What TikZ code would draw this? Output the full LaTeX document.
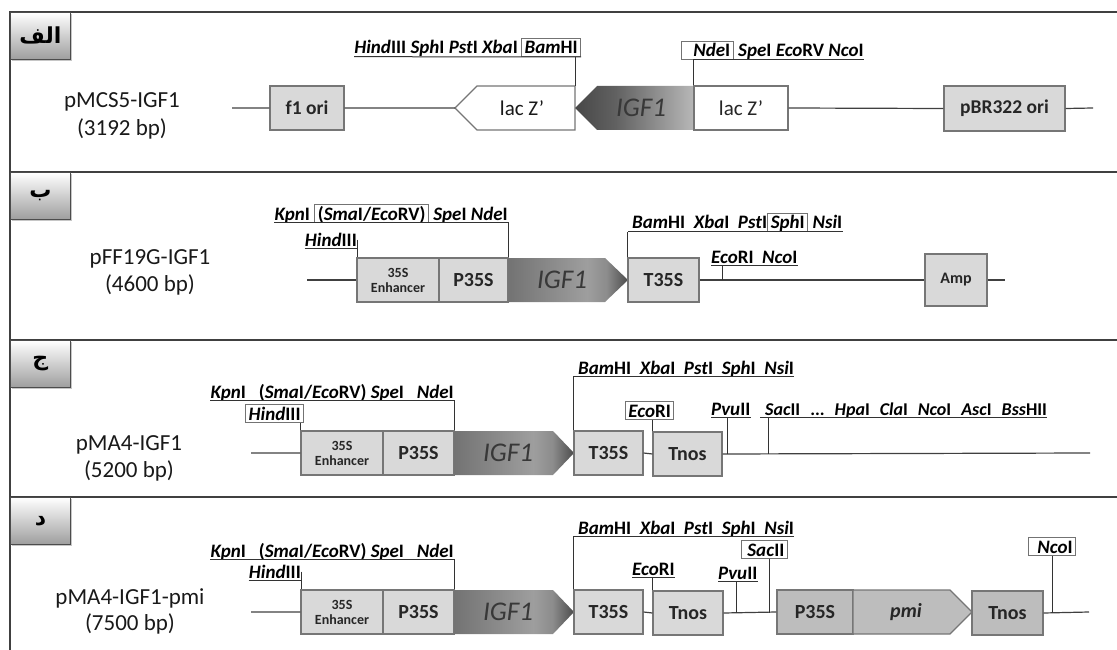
\documentclass[tikz,border=0pt]{standalone}
\usepackage{fontspec}
\setmainfont{Carlito}
\newfontfamily\arabicfont[Script=Arabic]{DejaVu Sans}
\TeXXeTstate=1
\usetikzlibrary{shadows}
\definecolor{boxlt}{HTML}{D9D9D9}
\definecolor{boxmd}{HTML}{BDBDBD}
\definecolor{edgec}{HTML}{767676}
\definecolor{framec}{HTML}{404040}
\definecolor{igfc}{HTML}{383838}
\pgfdeclarehorizontalshading{igfL}{100bp}{color(0bp)=(black!72); color(25bp)=(black!72); color(42bp)=(black!62); color(75bp)=(black!28); color(100bp)=(black!28)}
\pgfdeclarehorizontalshading{igfR}{100bp}{color(0bp)=(black!55); color(25bp)=(black!55); color(58bp)=(black!38); color(66bp)=(black!45); color(75bp)=(black!70); color(100bp)=(black!70)}
\newcommand\ez[2]{\textit{#1}#2}
\newcommand\fs[1]{\fontsize{#1}{#1}\selectfont}
\newcommand\gap{\hspace{10pt}}
\newcommand\pbox[7]{\node[#1, minimum width={(#5-#3)*1pt}, minimum height={(#6-#4)*1pt}] (#2) at ({(#3+#5)/2},{(#4+#6)/2}) {#7};}
\tikzset{
  frameline/.style={draw=framec, line width=1.6pt},
  tabbox/.style={draw=black!70, line width=0.8pt, top color=white, bottom color=black!38,
    drop shadow={opacity=0.45, shadow xshift=2pt, shadow yshift=-2pt},
    anchor=north west, minimum width=60pt, minimum height=47pt, inner sep=0pt,
    font=\arabicfont\bfseries\fs{22}},
  pname/.style={font=\fs{23}, text=black!90, inner sep=0pt},
  part/.style={draw=edgec, line width=1.1pt, fill=boxlt, inner sep=0pt, text=black!85, font=\bfseries\fs{20}},
  partmd/.style={part, fill=boxmd},
  orib/.style={part, font=\bfseries\fs{19.5}},
  enhb/.style={part, font=\bfseries\fontsize{14}{15}\selectfont, align=center},
  ampb/.style={part, font=\bfseries\fs{16}},
  lacb/.style={part, fill=white, font=\fs{21}},
  lacarrow/.style={draw=edgec, line width=1.1pt, fill=white},
  igfleft/.style={shading=igfL},
  igfright/.style={shading=igfR},
  pmiarrow/.style={draw=edgec, line width=1.1pt, fill=boxmd},
  lactxt/.style={font=\fs{21}, text=black!90},
  igftxt/.style={font=\itshape\fs{27}, text=igfc},
  pmitxt/.style={font=\bfseries\itshape\fs{20}, text=black!85},
  bb/.style={draw=black!75, line width=1.2pt},
  conn/.style={draw=black!80, line width=1pt},
  enz/.style={font=\bfseries\fs{19}, text=black, inner xsep=0pt, inner ysep=2.5pt, text height=13pt, text depth=0pt},
  enzsm/.style={enz, font=\bfseries\fs{18}},
  enzbox/.style={enz, draw=black!55, line width=0.8pt, inner xsep=3pt},
  uline/.style={draw=black!80, line width=1pt},
}
\begin{document}
\begin{tikzpicture}[x=1pt,y=-1pt]
\useasboundingbox (0,0) rectangle (1117,650);
% frame
\draw[frameline] (1117,12) -- (10,12) -- (10,650);
\draw[frameline] (10,172) -- (1117,172);
\draw[frameline] (10,340) -- (1117,340);
\draw[frameline] (10,497) -- (1117,497);
% tabs
\node[tabbox] (tabA) at (10,12) {\beginR الف\endR};
\node[tabbox] (tabB) at (10,172) {\beginR ب\endR};
\node[tabbox] (tabC) at (10,340) {\beginR ج\endR};
\node[tabbox] (tabD) at (10,497) {\beginR د\endR};

%================ Panel A
\node[pname] (nameA) at (122,102) {pMCS5-IGF1};
\node[pname] (sizeA) at (122,129) {(3192 bp)};
\coordinate (bbA0) at (232,108);
\coordinate (bbA1) at (1093,108);
\pbox{orib}{f1A}{270}{86}{344}{130}{f1 ori}
\path[lacarrow] (455,108) coordinate (lacLtip) -- (477,86) -- (575,86) coordinate (lacLtr) -- (575,130) -- (477,130) -- cycle;
\node[lactxt] (lacL) at (522,108) {lac Z’};
\path[igfleft] (575,108) -- (597,86) -- (694,86) -- (694,130) -- (597,130) -- cycle;
\node[igftxt] (igfA) at (641,108) {IGF1};
\pbox{lacb}{lacR}{694}{86}{788}{130}{lac Z’}
\pbox{orib}{pbrA}{944}{86}{1065}{131}{pBR322 ori}
\draw[bb] (bbA0) -- (f1A.west) (f1A.east) -- (lacLtip) (lacR.east) -- (pbrA.west) (pbrA.east) -- (bbA1);
% labels A
\node[enzbox, anchor=base east] (bamA) at (581,54) {\ez{Bam}{HI}};
\node[enz, anchor=base east] (hindA) at (bamA.base west) {\ez{Hind}{III} \ez{Sph}{I} \ez{Pst}{I} \ez{Xba}{I}\,};
\draw[uline] (hindA.south west) -- (bamA.south east);
\draw[conn] (lacLtr) -- (lacLtr |- bamA.south);
\node[enzbox, anchor=base west] (ndeA) at (681,57) {\hspace{9pt}\ez{Nde}{I}};
\node[enz, anchor=base west] (speA) at (ndeA.base east) {\ \ez{Spe}{I} \ez{Eco}{RV} \ez{Nco}{I}};
\draw[conn] (lacR.north west) |- (speA.south east);

%================ Panel B
\node[pname] (nameB) at (150,259) {pFF19G-IGF1};
\node[pname] (sizeB) at (150,285) {(4600 bp)};
\coordinate (bbB0) at (307,280);
\coordinate (bbB1) at (1005,280);
\pbox{enhb}{enhB}{357}{258}{439}{302}{35S\\Enhancer}
\pbox{part}{p35B}{439}{258}{508}{302}{P35S}
\path[igfright] (508,258) -- (605,258) -- (628,280) -- (605,302) -- (508,302) -- cycle;
\node[igftxt] (igfB) at (562,280) {IGF1};
\pbox{part}{t35B}{628}{258}{699}{302}{T35S}
\pbox{ampb}{ampB}{925}{254}{987}{306}{Amp}
\draw[bb] (bbB0) -- (enhB.west) (t35B.east) -- (ampB.west) (ampB.east) -- (bbB1);
% labels B
\node[enz, anchor=base east] (speB) at (508,220) {\ \ez{Spe}{I} \ez{Nde}{I}};
\node[enzbox, anchor=base east] (smaB) at (speB.base west) {(\ez{Sma}{I}/\ez{Eco}{RV})};
\node[enz, anchor=base east] (kpnB) at (smaB.base west) {\ez{Kpn}{I}\ \ };
\draw[conn] (kpnB.south west) -| (p35B.north east);
\node[enz, anchor=base east] (hindB) at (357,246) {\ez{Hind}{III}};
\draw[uline] (hindB.south west) -- (hindB.south east);
\draw[conn] (hindB.east) -- (hindB.east |- enhB.north);
\node[enz, anchor=base west] (bamB) at (628,229) {\hspace{4pt}\ez{Bam}{HI}\ \ \ez{Xba}{I}\ \ \ez{Pst}{I}\ };
\node[enzbox, anchor=base west] (sphB) at (bamB.base east) {\ez{Sph}{I}};
\node[enz, anchor=base west] (nsiB) at (sphB.base east) {\ \ez{Nsi}{I}};
\draw[uline] (bamB.south west) -- (nsiB.south east);
\draw[conn] (t35B.north west) -- (t35B.north west |- bamB.south);
\node[enz, anchor=base west] (ecoB) at (711,263) {\ez{Eco}{RI}\ \ \ez{Nco}{I}};
\draw[uline] (ecoB.south west) -- (ecoB.south east);
\draw[conn] ([xshift=11pt]ecoB.south west) -- ([xshift=11pt]ecoB.south west |- t35B.east);

%================ Panel C
\node[pname] (nameC) at (129,445) {pMA4-IGF1};
\node[pname] (sizeC) at (129,471) {(5200 bp)};
\coordinate (bbC0) at (251,453);
\coordinate (bbC1) at (1090,453);
\pbox{enhb}{enhC}{301}{431}{383}{475}{35S\\Enhancer}
\pbox{part}{p35C}{383}{431}{454}{475}{P35S}
\path[igfright] (454,431) -- (553,431) -- (574,453) -- (553,475) -- (454,475) -- cycle;
\node[igftxt] (igfC) at (508,453) {IGF1};
\pbox{part}{t35C}{574}{431}{643}{475}{T35S}
\pbox{part}{tnosC}{653}{432}{722}{476}{Tnos}
\draw[bb] (bbC0) -- (enhC.west) (t35C.east) -- (tnosC.west) (tnosC.east) -- (bbC1);
% labels C
\node[enz, anchor=base east] (kpnC) at (454,398) {\ez{Kpn}{I}\ \ \ (\ez{Sma}{I}/\ez{Eco}{RV})\ \ez{Spe}{I}\ \ \ \ez{Nde}{I}};
\draw[conn] (kpnC.south west) -| (p35C.north east);
\node[enzbox, anchor=base east] (hindC) at (304,420) {\ez{Hind}{III}};
\draw[conn] (enhC.north west) -- (enhC.north west |- hindC.south);
\node[enz, anchor=base west] (bamC) at (573,374) {\hspace{5pt}\ez{Bam}{HI}\ \ \ez{Xba}{I}\ \ \ez{Pst}{I}\ \ \ez{Sph}{I}\ \ \ez{Nsi}{I}};
\draw[conn] (bamC.south east) -| (t35C.north west);
\node[enzbox, anchor=base west] (ecoC) at (625,417) {\ez{Eco}{RI}};
\draw[conn] (tnosC.north west) -- (tnosC.north west |- ecoC.south);
\node[enz, anchor=base west] (pvuC) at (711,415) {\ez{Pvu}{II}};
\draw[uline] (pvuC.south west) -- (pvuC.south east);
\draw[conn] ([xshift=16pt]pvuC.south west) -- ([xshift=16pt]pvuC.south west |- tnosC.east);
\node[enzsm, anchor=base west] (sacC) at (760,415) {\hspace{5pt}\ez{Sac}{II}\gap...\gap\ez{Hpa}{I}\gap\ez{Cla}{I}\gap\ez{Nco}{I}\gap\ez{Asc}{I}\gap\ez{Bss}{HII}};
\draw[uline] (sacC.south west) -- (sacC.south east);
\draw[conn] ([xshift=8pt]sacC.south west) -- ([xshift=8pt]sacC.south west |- tnosC.east);

%================ Panel D
\node[pname] (nameD) at (130,598) {pMA4-IGF1-pmi};
\node[pname] (sizeD) at (130,624) {(7500 bp)};
\coordinate (bbD0) at (251,612);
\coordinate (bbD1) at (1089,612);
\pbox{enhb}{enhD}{301}{590}{383}{634}{35S\\Enhancer}
\pbox{part}{p35D}{383}{590}{454}{634}{P35S}
\path[igfright] (454,590) -- (553,590) -- (574,612) -- (553,634) -- (454,634) -- cycle;
\node[igftxt] (igfD) at (508,612) {IGF1};
\pbox{part}{t35D}{574}{590}{643}{634}{T35S}
\pbox{part}{tnosD}{653}{591}{723}{635}{Tnos}
\pbox{partmd}{p35D2}{777}{590}{853}{634}{P35S}
\path[pmiarrow] (853,590) -- (950,590) -- (972,612) -- (950,634) -- (853,634) -- cycle;
\node[pmitxt] (pmiD) at (906,612) {pmi};
\pbox{partmd}{tnos2D}{972}{591}{1043}{635}{Tnos}
\draw[bb] (bbD0) -- (enhD.west) (t35D.east) -- (tnosD.west) (tnosD.east) -- (p35D2.west) (tnos2D.east) -- (bbD1);
% labels D
\node[enz, anchor=base east] (kpnD) at (454,557) {\ez{Kpn}{I}\ \ \ (\ez{Sma}{I}/\ez{Eco}{RV})\ \ez{Spe}{I}\ \ \ \ez{Nde}{I}};
\draw[conn] (kpnD.south west) -| (p35D.north east);
\node[enz, anchor=base east] (hindD) at (301,578) {\ez{Hind}{III}};
\draw[uline] (hindD.south west) -- (hindD.south east);
\draw[conn] (hindD.east) -- (hindD.east |- enhD.north);
\node[enz, anchor=base west] (bamD) at (573,534) {\hspace{5pt}\ez{Bam}{HI}\ \ \ez{Xba}{I}\ \ \ez{Pst}{I}\ \ \ez{Sph}{I}\ \ \ez{Nsi}{I}};
\draw[conn] (bamD.south east) -| (t35D.north west);
\node[enz, anchor=base west] (ecoD) at (632,575) {\ez{Eco}{RI}};
\draw[uline] (ecoD.south west) -- (ecoD.south east);
\draw[conn] (tnosD.north west) -- (tnosD.north west |- ecoD.south);
\node[enz, anchor=base west] (pvuD) at (718,579) {\ez{Pvu}{II}};
\draw[uline] (pvuD.south west) -- (pvuD.south east);
\draw[conn] ([xshift=18pt]pvuD.south west) -- ([xshift=18pt]pvuD.south west |- tnosD.east);
\node[enzbox, anchor=base west] (sacD) at (741,556) {\hspace{3pt}\ez{Sac}{II}};
\draw[conn] ([xshift=28pt]sacD.south west) -- ([xshift=28pt]sacD.south west |- tnosD.east);
\node[enzbox, anchor=base] (ncoD) at (1052,553) {\hspace{6pt}\ez{Nco}{I}\hspace{6pt}};
\draw[conn] (ncoD.south) -- (ncoD.south |- tnos2D.east);
\end{tikzpicture}
\end{document}
